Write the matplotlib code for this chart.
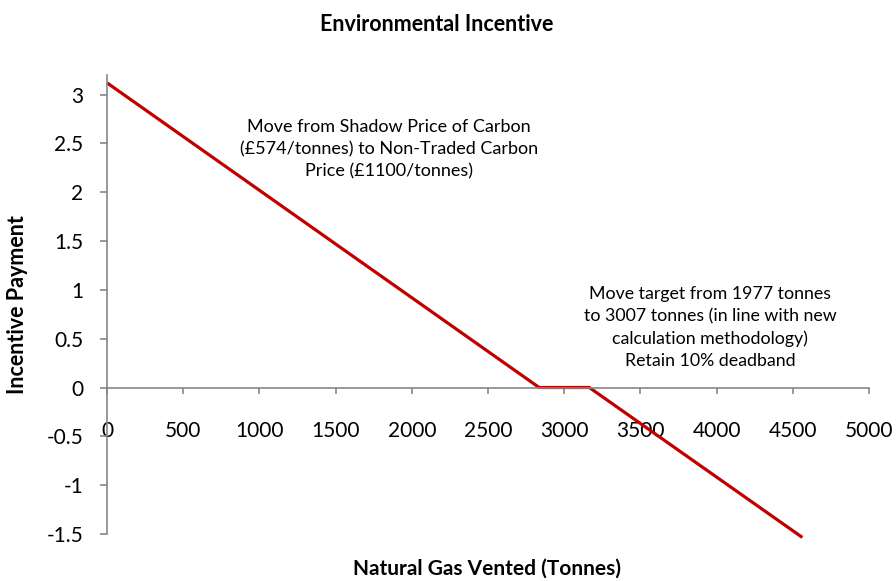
import matplotlib
matplotlib.use('Agg')
from matplotlib import pyplot as plt

# tonnes vented vs incentive payment
vented = [0, 2836, 3165, 4563]
payment = [3.12, 0.0, 0.0, -1.535]

x_ticks = [0, 500, 1000, 1500, 2000, 2500, 3000, 3500, 4000, 4500, 5000]
y_ticks = [-1.5, -1, -0.5, 0, 0.5, 1, 1.5, 2, 2.5, 3]
y_tick_labels = ['-1.5', '-1', '-0.5', '0', '0.5', '1', '1.5', '2', '2.5', '3']

note1 = 'Move from Shadow Price of Carbon\n(£574/tonnes) to Non-Traded Carbon\nPrice (£1100/tonnes)'
note2 = 'Move target from 1977 tonnes\nto 3007 tonnes (in line with new\ncalculation methodology)\nRetain 10% deadband'


def main():
    plt.rcParams['font.family'] = ['Lato', 'DejaVu Sans']
    axis_col = '#868686'
    fig = plt.figure(figsize=(8.96, 5.81), dpi=100)
    ax = fig.add_axes([0.1194, 0.0809, 0.8504, 0.79])

    ax.plot(vented, payment, color='#C00000', linewidth=2.3, clip_on=False,
            solid_capstyle='butt')

    ax.set_xlim(0, 5000)
    ax.set_ylim(-1.5, 3.2)
    ax.set_xticks(x_ticks)
    ax.set_xticklabels([str(v) for v in x_ticks])
    ax.set_yticks(y_ticks)
    ax.set_yticklabels(y_tick_labels)

    ax.spines['top'].set_visible(False)
    ax.spines['right'].set_visible(False)
    ax.spines['bottom'].set_position(('data', 0))
    for s in ['left', 'bottom']:
        ax.spines[s].set_color(axis_col)
        ax.spines[s].set_linewidth(1.2)
    ax.tick_params(axis='x', colors=axis_col, labelcolor='black', length=4,
                   width=1.2, pad=20, labelsize=15)
    ax.tick_params(axis='y', colors=axis_col, labelcolor='black', length=5,
                   width=1.2, pad=12, labelsize=15)

    fig.text(0.487, 0.957, 'Environmental Incentive', ha='center', va='center',
             fontsize=15.5, fontweight='bold')
    fig.text(0.543, 0.004, 'Natural Gas Vented (Tonnes)', ha='center', va='bottom',
             fontsize=15, fontweight='bold')
    fig.text(0.019, 0.476, 'Incentive Payment', ha='center', va='center',
             rotation=90, fontsize=15.5, fontweight='bold')

    ax.text(1850, 2.44, note1, ha='center', va='center', fontsize=13,
            linespacing=1.45)
    ax.text(3957, 0.616, note2, ha='center', va='center', fontsize=12.8,
            linespacing=1.45)

    fig.savefig('out.png', dpi=100)


if __name__ == "__main__":
    main()
